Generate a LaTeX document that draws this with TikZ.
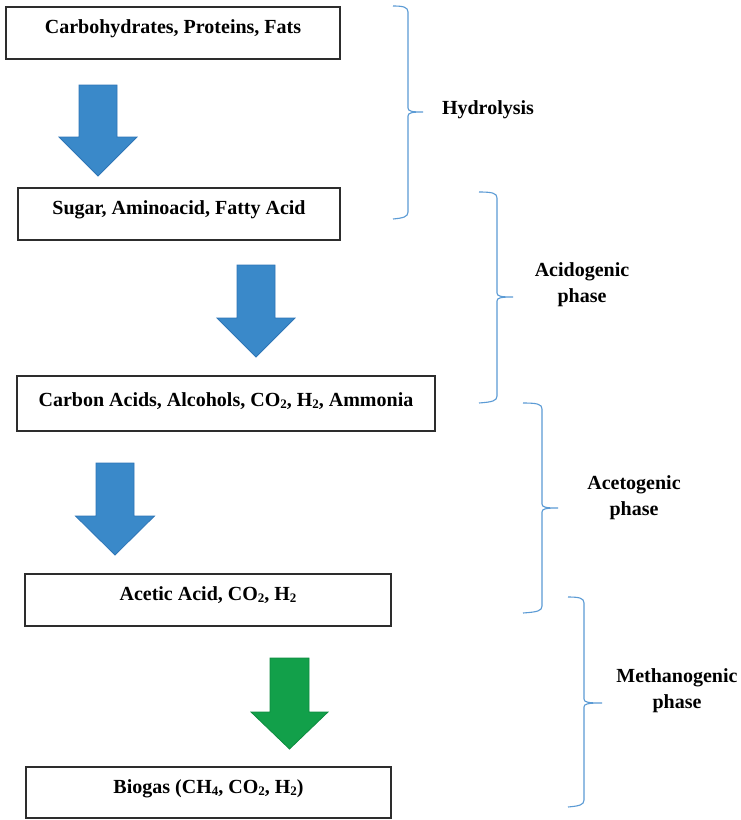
\documentclass[tikz,border=0pt]{standalone}
\usepackage{fontspec}
\setmainfont{Liberation Serif}
\definecolor{boxgray}{RGB}{45,45,45}
\definecolor{flowblue}{RGB}{58,137,201}
\definecolor{flowblueedge}{RGB}{46,117,182}
\definecolor{flowgreen}{RGB}{18,160,74}
\definecolor{flowgreenedge}{RGB}{14,140,64}
\definecolor{braceblue}{RGB}{91,155,213}
% small chemical subscript
\newcommand\chemsub[1]{\raisebox{-0.25ex}{\fontsize{13}{13}\selectfont #1}}
% block arrow: style, centre x, top y, neck y, tip y, shaft half width, head half width
\newcommand\blockarrow[7]{%
  \draw[#1] (#2-#6,#3) -- (#2+#6,#3) -- (#2+#6,#4) -- (#2+#7,#4) -- (#2,#5)
    -- (#2-#7,#4) -- (#2-#6,#4) -- cycle;}
% curly brace: end x, spine x, tip x, top y, middle y, bottom y
\newcommand\phasebrace[6]{%
  \draw[bracepath] (#1,#4) .. controls (#2-5,#4) and (#2,#4+1) .. (#2,#4+6)
    -- (#2,#5-4) .. controls (#2,#5-1) and (#2+3,#5) .. (#3,#5)
    .. controls (#2+3,#5) and (#2,#5+1) .. (#2,#5+4)
    -- (#2,#6-6) .. controls (#2,#6-1) and (#2-5,#6) .. (#1,#6+1);}
\begin{document}
\begin{tikzpicture}[x=1pt,y=-1pt,
  stagebox/.style={draw=boxgray, line width=1.4pt, fill=white, inner sep=0pt},
  stagetext/.style={font=\fontsize{20}{26}\selectfont\bfseries, anchor=base, inner sep=0pt},
  phaselabel/.style={font=\fontsize{20}{26}\selectfont\bfseries, align=center, inner sep=0pt},
  bracepath/.style={draw=braceblue, line width=1.1pt},
  blockblue/.style={fill=flowblue, draw=flowblueedge, line width=0.8pt},
  blockgreen/.style={fill=flowgreen, draw=flowgreenedge, line width=0.8pt}]
\useasboundingbox[fill=white] (0,0) rectangle (741,820);

% stage boxes
\node[stagebox, minimum width=334pt, minimum height=52pt] (b1) at (173,33) {};
\node[stagebox, minimum width=322pt, minimum height=52pt] (b2) at (179,214) {};
\node[stagebox, minimum width=418pt, minimum height=55pt] (b3) at (226,403.5) {};
\node[stagebox, minimum width=366pt, minimum height=52pt] (b4) at (208,600) {};
\node[stagebox, minimum width=365pt, minimum height=51pt] (b5) at (208.5,792.5) {};

% stage texts
\node[stagetext] (t1) at (173,33) {Carbohydrates, Proteins, Fats};
\node[stagetext] (t2) at (179,214) {Sugar, Aminoacid, Fatty Acid};
\node[stagetext] (t3) at (226,406) {Carbon Acids, Alcohols, CO\chemsub{2}, H\chemsub{2}, Ammonia};
\node[stagetext] (t4) at (208,600) {Acetic Acid, CO\chemsub{2}, H\chemsub{2}};
\node[stagetext] (t5) at (208.5,793) {Biogas (CH\chemsub{4}, CO\chemsub{2}, H\chemsub{2})};

% block arrows between stages
\blockarrow{blockblue}{98}{85}{137}{176}{19}{39}
\blockarrow{blockblue}{256}{265}{318}{357}{19}{39}
\blockarrow{blockblue}{115}{463}{516}{555}{19}{39.5}
\blockarrow{blockgreen}{289.5}{658}{712}{749}{19.5}{38.5}

% phase braces
\phasebrace{393}{408}{423}{6}{112}{218}
\phasebrace{479}{497}{513}{192}{297}{402}
\phasebrace{523}{542}{558}{403}{508}{612}
\phasebrace{568}{584}{602}{597}{703}{806}

% phase labels
\node[stagetext] (p1) at (488,114) {Hydrolysis};
\node[phaselabel] (p2) at (582,285) {Acidogenic\\phase};
\node[phaselabel] (p3) at (634,498) {Acetogenic\\phase};
\node[phaselabel] (p4) at (677,691) {Methanogenic\\phase};
\end{tikzpicture}
\end{document}
